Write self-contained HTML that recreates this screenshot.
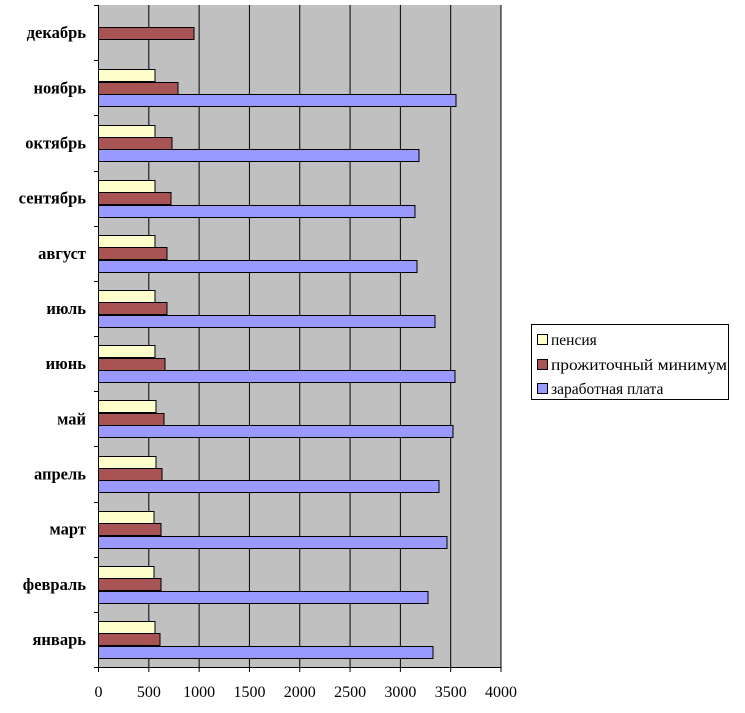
<!DOCTYPE html>
<html><head><meta charset="utf-8"><style>body{margin:0;background:#fff}svg{display:block}</style></head>
<body>
<svg id="s" width="745" height="713" xmlns="http://www.w3.org/2000/svg" font-family="Liberation Serif, serif">
<rect x="98.5" y="5" width="402.5" height="662" fill="#c0c0c0"/>
<g id="g"></g>
<rect x="531.5" y="324.5" width="197" height="75" fill="#fff" stroke="#000"/>
<rect x="537.5" y="334.5" width="10" height="10" fill="#ffffcc" stroke="#000"/>
<rect x="537.5" y="359.5" width="10" height="10" fill="#a85454" stroke="#000"/>
<rect x="537.5" y="383.5" width="10" height="10" fill="#9999ff" stroke="#000"/>
<text x="551" y="345" font-size="15.5">пенсия</text>
<text x="551" y="370" font-size="15.5" textLength="176" lengthAdjust="spacingAndGlyphs">прожиточный минимум</text>
<text x="551" y="394" font-size="15.5">заработная плата</text>
</svg>
<script>
var g=document.getElementById('g'),h='';
var x0=98.5,sc=402.5/4000,ty=5,bh=662/12;
for(var i=1;i<=8;i++){var x=x0+i*500*sc;h+='<line x1="'+x+'" y1="5" x2="'+x+'" y2="667" stroke="#000"/>';}
h+='<line x1="'+x0+'" y1="5" x2="'+x0+'" y2="671" stroke="#000"/>';
h+='<line x1="94" y1="667.5" x2="501" y2="667.5" stroke="#000"/>';
for(var i=0;i<=12;i++){var y=Math.round(ty+i*bh)+0.5;h+='<line x1="94" y1="'+y+'" x2="'+x0+'" y2="'+y+'" stroke="#000"/>';}
for(var i=0;i<=8;i++){var x=x0+i*500*sc;h+='<line x1="'+x+'" y1="667" x2="'+x+'" y2="672" stroke="#000"/><text x="'+x+'" y="697" font-size="16" text-anchor="middle">'+(i*500)+'</text>';}
var cats=['декабрь','ноябрь','октябрь','сентябрь','август','июль','июнь','май','апрель','март','февраль','январь'];
var d=[[0,194,0],[155,178,456],[155,172,419],[155,171,415],[155,167,417],[155,167,435],[155,165,455],[156,164,453],[156,162,439],[154,161,447],[154,161,428],[155,160,433]];
var cols=['#ffffcc','#a85454','#9999ff'];
for(var c=0;c<12;c++){var yb=ty+c*bh;
h+='<text x="86" y="'+(yb+bh/2+5.5)+'" font-size="16.5" font-weight="bold" text-anchor="end">'+cats[c]+'</text>';
for(var k=0;k<3;k++){var w=d[c][k];if(!w)continue;var y=Math.round(yb+9.2+k*12.4)+0.5;
h+='<rect x="'+x0+'" y="'+y+'" width="'+(w-98.5)+'" height="12" fill="'+cols[k]+'" stroke="#000"/>';}}
g.innerHTML=h;
</script>
</body></html>
